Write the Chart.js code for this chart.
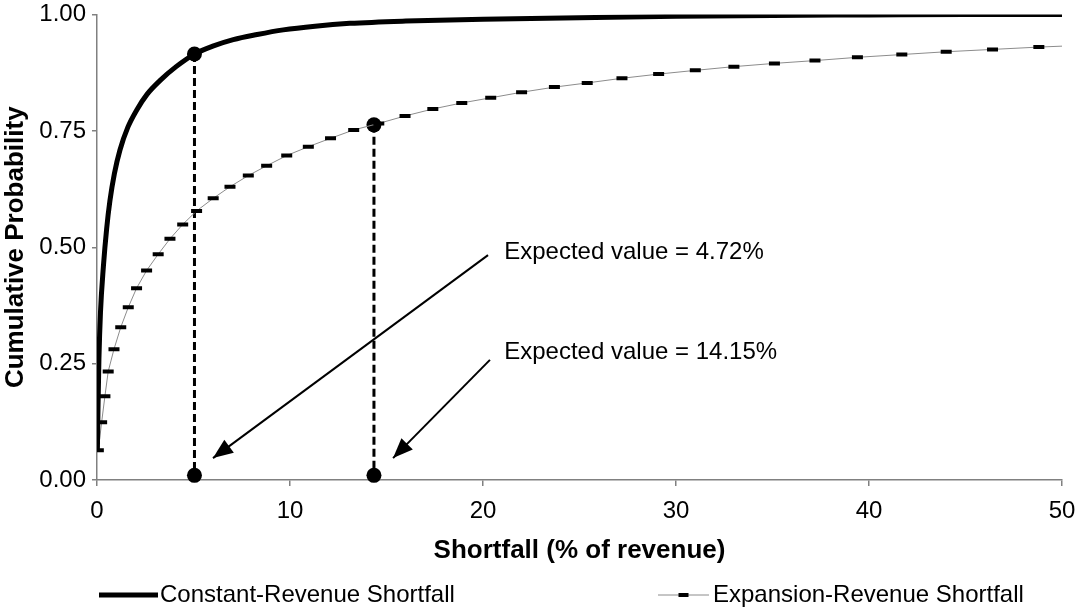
<!DOCTYPE html>
<html>
<head>
<meta charset="utf-8">
<title>Shortfall distribution</title>
<script src="https://cdn.jsdelivr.net/npm/chart.js@4.4.1/dist/chart.umd.min.js"></script>
<style>
  html, body { margin: 0; padding: 0; background: #fff; }
  canvas { display: block; }
</style>
</head>
<body>
<canvas id="chart" width="1075" height="610"></canvas>
<script>
"use strict";
// values
const seriesNames = ["Constant-Revenue Shortfall", "Expansion-Revenue Shortfall"];
const constantX = [0.02, 0.05, 0.1, 0.18, 0.33, 0.5, 0.67, 0.9, 1.19, 1.6, 2.06, 2.6, 3.26, 4.1, 5.05, 6.0, 7.06, 8.3, 9.65, 11.3, 13.1, 16, 20, 25, 30, 35, 40, 45, 50];
const constantY = [0.064, 0.15, 0.26, 0.36, 0.458, 0.54, 0.6, 0.658, 0.709, 0.758, 0.795, 0.829, 0.858, 0.888, 0.915, 0.932, 0.946, 0.957, 0.967, 0.975, 0.981, 0.986, 0.99, 0.993, 0.996, 0.998, 0.999, 1.0, 1.0];
const expansionX = [0.07, 0.24, 0.41, 0.58, 0.88, 1.23, 1.62, 2.05, 2.57, 3.17, 3.78, 4.44, 5.16, 6.02, 6.89, 7.84, 8.79, 9.83, 10.95, 12.1, 13.3, 14.6, 15.96, 17.4, 18.9, 20.4, 22.0, 23.7, 25.4, 27.2, 29.1, 31.0, 33.0, 35.1, 37.2, 39.4, 41.7, 44.0, 46.4, 48.8, 50];
const expansionY = [0.064, 0.124, 0.18, 0.233, 0.281, 0.328, 0.371, 0.412, 0.45, 0.485, 0.518, 0.549, 0.578, 0.605, 0.63, 0.654, 0.675, 0.697, 0.716, 0.734, 0.752, 0.766, 0.782, 0.797, 0.81, 0.821, 0.833, 0.844, 0.853, 0.863, 0.872, 0.88, 0.888, 0.895, 0.901, 0.908, 0.914, 0.92, 0.925, 0.93, 0.932];
const expectedX = [5.05, 14.35];
const expectedTopY = [0.915, 0.763];
const expectedBottomY = 0.01;
const noteTexts = ["Expected value = 4.72%", "Expected value = 14.15%"];
const noteX = [21.1, 21.1];
const noteY = [0.489, 0.275];
const arrowFromX = [20.26, 20.36];
const arrowFromY = [0.483, 0.258];
const arrowToX = [6.01, 15.34];
const arrowToY = [0.047, 0.047];
const xTicks = [0, 10, 20, 30, 40, 50];
const xTickLabels = ["0", "10", "20", "30", "40", "50"];
const yTicks = [0, 0.25, 0.5, 0.75, 1];
const yTickLabels = ["0.00", "0.25", "0.50", "0.75", "1.00"];

const canvas = document.getElementById('chart');
const ctx = canvas.getContext('2d');
const FONT = '"Liberation Sans", Arial, Helvetica, sans-serif';
const AXIS_GREY = '#808080';
Chart.defaults.font.family = FONT;
Chart.defaults.color = '#000';

function zip(xs, ys) {
    return xs.map((x, i) => ({ x: x, y: ys[i] }));
}

let datasets = [{
    label: seriesNames[0],
    data: zip(constantX, constantY),
    borderColor: '#000',
    borderWidth: 5,
    pointRadius: 0,
    cubicInterpolationMode: 'monotone'
}, {
    label: seriesNames[1],
    data: zip(expansionX, expansionY),
    borderColor: '#8c8c8c',
    borderWidth: 1,
    pointStyle: 'line',
    pointRadius: c => (c.dataIndex === expansionX.length - 1 ? 0 : 5.5),
    pointBorderColor: '#000',
    pointBackgroundColor: '#000',
    pointBorderWidth: 4,
    tension: 0
}];

expectedX.forEach((x, i) => {
    datasets.push({
        label: 'expected' + i,
        data: [{ x: x, y: expectedTopY[i] }, { x: x, y: expectedBottomY }],
        borderColor: '#000',
        borderWidth: 3,
        borderDash: [8, 4],
        pointRadius: 7.5,
        pointBackgroundColor: '#000',
        pointBorderWidth: 0,
        clip: false
    });
});

arrowFromX.forEach((x, i) => {
    datasets.push({
        label: 'arrow' + i,
        arrow: true,
        data: [{ x: x, y: arrowFromY[i] }, { x: arrowToX[i], y: arrowToY[i] }],
        borderColor: '#000',
        borderWidth: 2,
        pointRadius: 0
    });
});

// filled heads at the end of each arrow line
const arrowHeads = {
    id: 'arrowHeads',
    afterDatasetsDraw(chart) {
        const c = chart.ctx;
        chart.data.datasets.forEach((ds, i) => {
            if (!ds.arrow) return;
            const pts = chart.getDatasetMeta(i).data;
            const a = pts[0], b = pts[1];
            const ang = Math.atan2(b.y - a.y, b.x - a.x);
            const len = 20, half = 8;
            const bx = b.x - Math.cos(ang) * len, by = b.y - Math.sin(ang) * len;
            c.save();
            c.fillStyle = '#000';
            c.beginPath();
            c.moveTo(b.x, b.y);
            c.lineTo(bx - Math.sin(ang) * half, by + Math.cos(ang) * half);
            c.lineTo(bx + Math.sin(ang) * half, by - Math.cos(ang) * half);
            c.closePath();
            c.fill();
            c.restore();
        });
    }
};

// the two text boxes
const notes = {
    id: 'notes',
    afterDraw(chart) {
        const c = chart.ctx;
        const xs = chart.scales.x, ys = chart.scales.y;
        c.save();
        c.font = '24px ' + FONT;
        c.fillStyle = '#000';
        c.textAlign = 'left';
        c.textBaseline = 'middle';
        noteTexts.forEach((t, i) => {
            c.fillText(t, xs.getPixelForValue(noteX[i]), ys.getPixelForValue(noteY[i]));
        });
        c.restore();
    }
};

// legend drawn like the original: sample line directly followed by the name
const sampleLegend = {
    id: 'sampleLegend',
    afterDraw(chart) {
        const c = chart.ctx;
        const y = 595;
        const items = [{ x0: 99, x1: 158, tx: 160 }, { x0: 658, x1: 709, tx: 713 }];
        c.save();
        c.font = '24px ' + FONT;
        c.textBaseline = 'middle';
        c.fillStyle = '#000';
        items.forEach((it, i) => {
            const ds = chart.data.datasets[i];
            c.strokeStyle = ds.borderColor;
            c.lineWidth = ds.borderWidth;
            c.beginPath();
            c.moveTo(it.x0, y);
            c.lineTo(it.x1, y);
            c.stroke();
            if (ds.pointStyle === 'line') {
                const mid = (it.x0 + it.x1) / 2;
                c.strokeStyle = ds.pointBorderColor;
                c.lineWidth = ds.pointBorderWidth;
                c.beginPath();
                c.moveTo(mid - 5, y);
                c.lineTo(mid + 5, y);
                c.stroke();
            }
            c.fillText(ds.label, it.tx, y);
        });
        c.restore();
    }
};

let myChart = new Chart(ctx, {
    type: 'line',
    data: { datasets: datasets },
    options: {
        responsive: false,
        animation: false,
        events: [],
        layout: { padding: { left: 0, right: 13, top: 14.5, bottom: 0 } },
        plugins: {
            legend: { display: false },
            tooltip: { enabled: false }
        },
        scales: {
            x: {
                type: 'linear',
                min: 0,
                max: 50,
                afterBuildTicks: s => { s.ticks = xTicks.map(v => ({ value: v })); },
                afterFit: s => { s.height = 130; s.paddingLeft = 0; s.paddingRight = 0; },
                ticks: {
                    autoSkip: false,
                    maxRotation: 0,
                    padding: 11,
                    font: { size: 24 },
                    color: '#000',
                    callback: (v, i) => xTickLabels[i]
                },
                grid: {
                    display: true,
                    drawOnChartArea: false,
                    drawTicks: true,
                    tickLength: 6,
                    color: AXIS_GREY,
                    lineWidth: 1.5
                },
                border: { display: true, color: AXIS_GREY, width: 1.5 },
                title: {
                    display: true,
                    text: 'Shortfall (% of revenue)',
                    font: { size: 26, weight: 'bold' },
                    color: '#000',
                    padding: { top: 0, bottom: 44 }
                }
            },
            y: {
                min: 0,
                max: 1,
                afterBuildTicks: s => { s.ticks = yTicks.map(v => ({ value: v })); },
                afterFit: s => { s.width = 97; s.paddingTop = 0; s.paddingBottom = 0; },
                ticks: {
                    padding: 6,
                    font: { size: 24 },
                    color: '#000',
                    callback: (v, i) => yTickLabels[i]
                },
                grid: {
                    display: true,
                    drawOnChartArea: false,
                    drawTicks: true,
                    tickLength: 5,
                    color: AXIS_GREY,
                    lineWidth: 1.5
                },
                border: { display: true, color: AXIS_GREY, width: 1.5 },
                title: {
                    display: true,
                    text: 'Cumulative Probability',
                    font: { size: 26, weight: 'bold' },
                    color: '#000',
                    padding: { top: 0, bottom: 0 }
                }
            }
        }
    },
    plugins: [arrowHeads, notes, sampleLegend]
});
</script>
</body>
</html>
